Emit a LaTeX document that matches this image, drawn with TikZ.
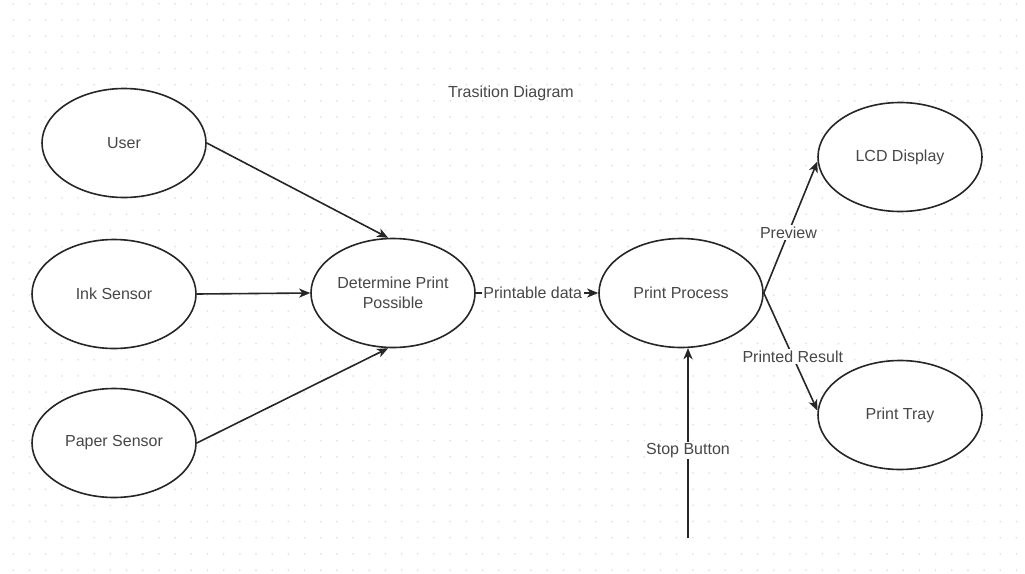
\documentclass[tikz,border=0pt]{standalone}
\usepackage{fontspec}
\setmainfont{Liberation Sans}
\usetikzlibrary{shapes.geometric,arrows.meta}
\definecolor{inkline}{HTML}{262626}
\definecolor{inktext}{HTML}{474747}
\definecolor{griddot}{HTML}{E3E3E3}
\begin{document}
\begin{tikzpicture}[x=1pt,y=-1pt,
  state/.style={ellipse, draw=inkline, line width=1.6pt, fill=white,
    minimum width=164pt, minimum height=109pt, inner sep=0pt,
    text=inktext, font=\fontsize{16}{20}\selectfont, align=center},
  flow/.style={draw=inkline, line width=1.6pt,
    -{Stealth[length=11pt,width=9pt,inset=3pt]}},
  tag/.style={fill=white, text=inktext, font=\fontsize{16}{20}\selectfont,
    inner sep=1.5pt}
]
\useasboundingbox (0,0) rectangle (1025,573);
\fill[white] (0,0) rectangle (1025,573);
% dotted canvas grid
\foreach \i in {0,...,62}
  \foreach \j in {0,...,35}
    \fill[griddot] ({13.3+16.18*\i},{3.8+16.18*\j}) circle (1pt);

% title
\node[text=inktext, font=\fontsize{16}{20}\selectfont] (title) at (511,93) {Trasition Diagram};

% states
\node[state] (user)  at (124,143) {User};
\node[state] (ink)   at (114,294) {Ink Sensor};
\node[state] (paper) at (114,443) {Paper Sensor};
\node[state] (det)   at (393,293) {Determine Print\\Possible};
\node[state] (proc)  at (681,293) {Print Process};
\node[state] (lcd)   at (900,157) {LCD Display};
\node[state] (tray)  at (900,415) {Print Tray};
\coordinate (stopfoot) at (688,538);

% transitions
\draw[flow] (user.east) -- (det.95);
\draw[flow] (ink.east) -- (det.west);
\draw[flow] (paper.east) -- (det.265);
\draw[flow] (det.east) -- node[tag, pos=0.465] {Printable data} (proc.west);
\draw[flow] (proc.east) -- node[tag, pos=0.46] {Preview} (lcd.183);
\draw[flow] (proc.east) -- node[tag, pos=0.54] {Printed Result} (tray.177);
\draw[flow] (stopfoot) -- node[tag, pos=0.46] {Stop Button} (stopfoot |- proc.277);
\end{tikzpicture}
\end{document}
